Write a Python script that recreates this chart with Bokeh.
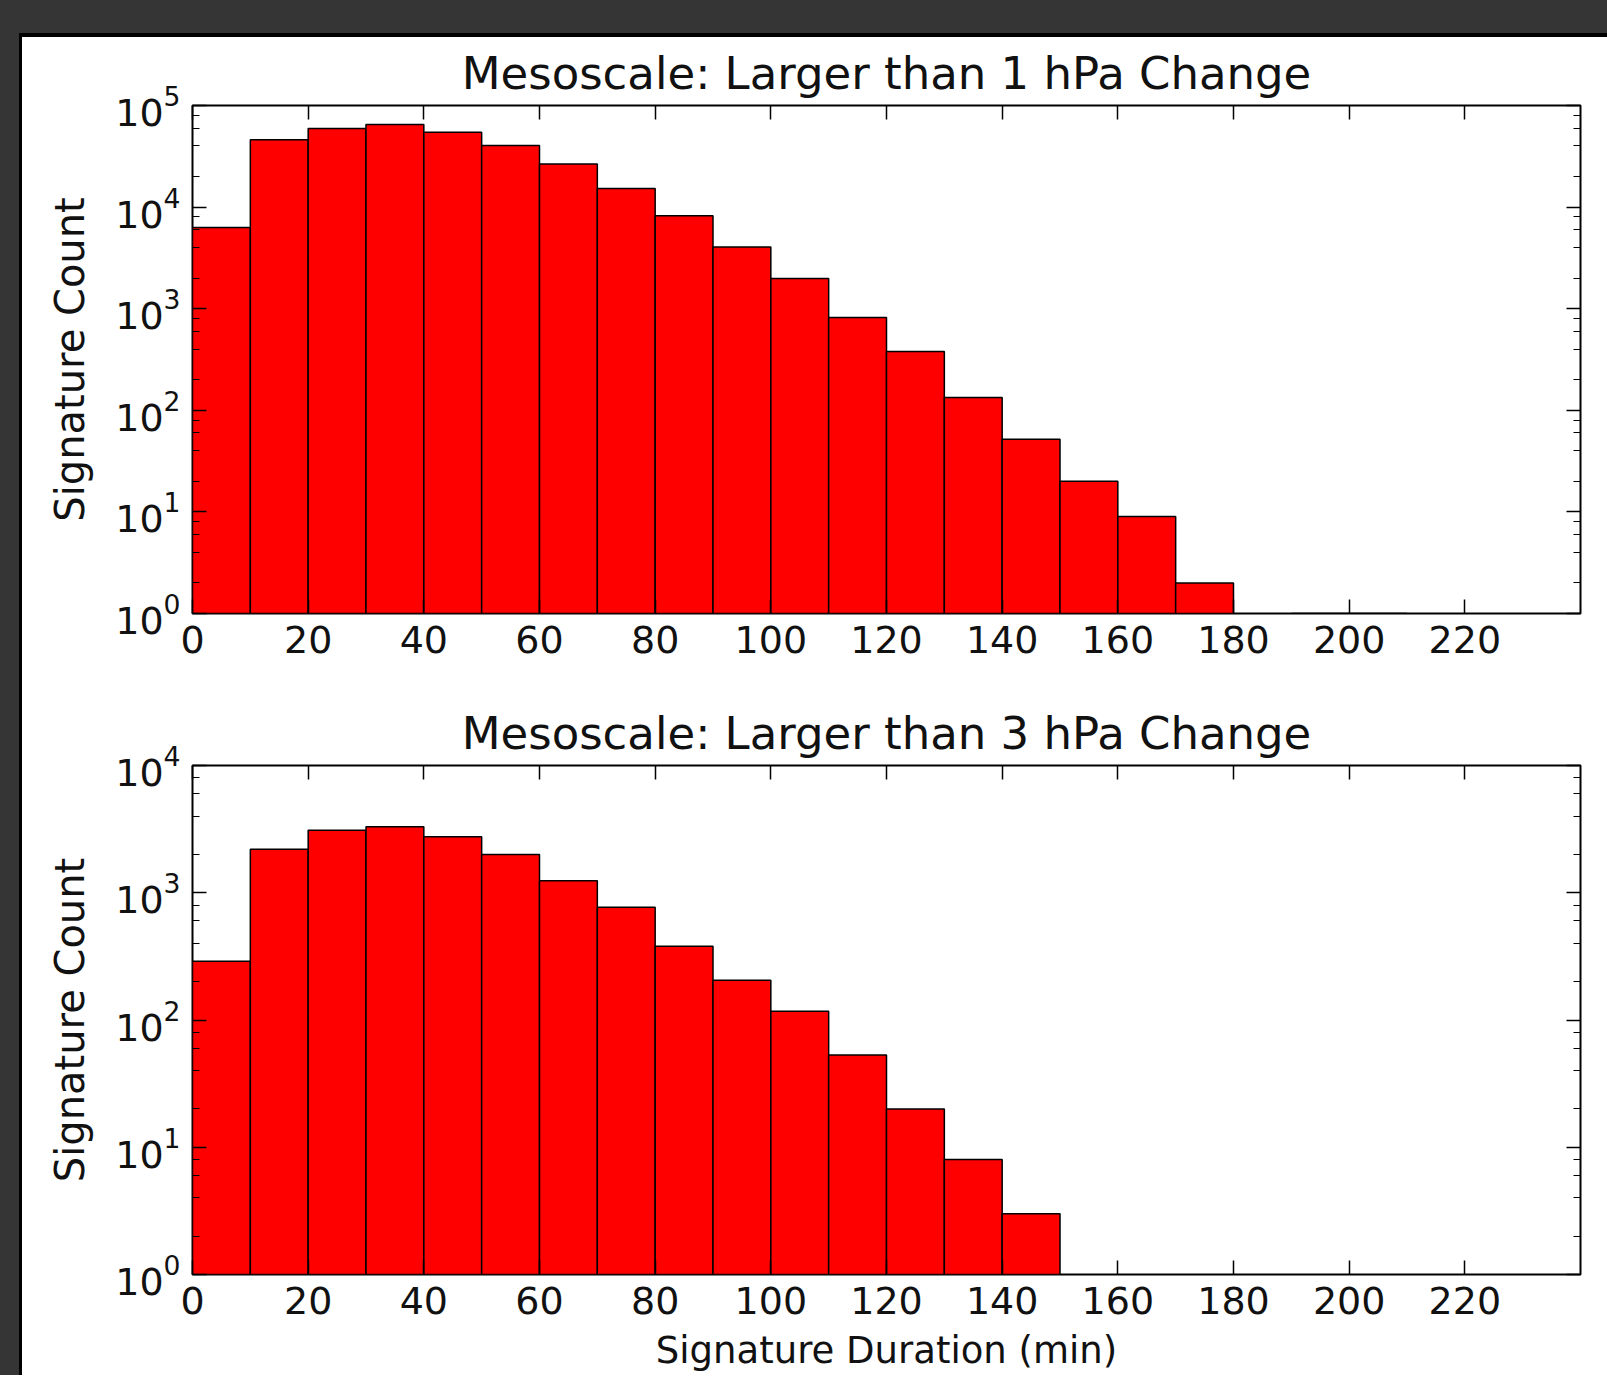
from bokeh.plotting import figure
from bokeh.models import (LinearAxis, LogAxis, Range1d, ColumnDataSource,
                          FixedTicker, LogTicker)
from bokeh.layouts import column
from bokeh.embed import file_html
from bokeh.resources import INLINE

# ---- data ----
bin_width = 10
bin_starts_top = [0, 10, 20, 30, 40, 50, 60, 70, 80, 90, 100, 110, 120, 130,
                  140, 150, 160, 170, 180, 190, 200]
counts_1hpa = [6300, 46000, 59500, 65000, 54500, 40500, 26500, 15200, 8200,
               4050, 1980, 820, 380, 134, 52, 20, 9, 2, 0, 1, 1]
bin_starts_bottom = [0, 10, 20, 30, 40, 50, 60, 70, 80, 90, 100, 110, 120,
                     130, 140]
counts_3hpa = [290, 2200, 3100, 3300, 2750, 2000, 1240, 770, 380, 205, 117,
               53, 20, 8, 3]
x_ticks = [0, 20, 40, 60, 80, 100, 120, 140, 160, 180, 200, 220]
title_top = "Mesoscale: Larger than 1 hPa Change"
title_bottom = "Mesoscale: Larger than 3 hPa Change"
y_label = "Signature Count"
x_label = "Signature Duration (min)"

FONT = "DejaVu Sans"


def make_source(starts, counts):
    l, r, t = [], [], []
    for s, c in zip(starts, counts):
        if c > 0:
            l.append(s)
            r.append(s + bin_width)
            t.append(c)
    return ColumnDataSource(dict(left=l, right=r, top=t, bottom=[1] * len(t)))


def style_axis(ax, labels=True, log=False):
    ax.axis_line_color = None
    ax.major_tick_in = 14
    ax.major_tick_out = 0
    ax.major_tick_line_color = "black"
    ax.major_tick_line_width = 1.5
    if log:
        ax.minor_tick_in = 7
        ax.minor_tick_out = 0
        ax.minor_tick_line_color = "black"
        ax.minor_tick_line_width = 1.2
    else:
        ax.minor_tick_line_color = None
    ax.major_label_text_font = FONT
    if labels:
        ax.major_label_text_color = "#111111"
        ax.major_label_text_font_size = "38px"
    else:
        ax.major_label_text_color = None
        ax.major_label_text_font_size = "1px"
        ax.major_label_standoff = 0


def make_plot(starts, counts, ymax, title, height, top_b, bottom_b, xlabel):
    p = figure(width=1585, height=height, output_backend="svg",
               toolbar_location=None, y_axis_type="log",
               x_range=Range1d(0, 240), y_range=Range1d(1, ymax),
               min_border_left=170, min_border_right=27,
               min_border_top=top_b, min_border_bottom=bottom_b,
               background_fill_color="white", border_fill_color="white")
    p.title.text = title
    p.title.text_font = FONT
    p.title.text_font_size = "45px"
    p.title.text_font_style = "normal"
    p.title.text_color = "#111111"
    p.title.align = "center"
    p.title.standoff = 11
    p.grid.visible = False
    p.outline_line_color = "black"
    p.outline_line_width = 2

    src = make_source(starts, counts)
    p.quad(left="left", right="right", top="top", bottom="bottom", source=src,
           fill_color="#ff0000", line_color="black", line_width=1.5)

    bx = p.xaxis[0]
    bx.ticker = FixedTicker(ticks=x_ticks)
    style_axis(bx)
    bx.major_label_standoff = 12
    ly = p.yaxis[0]
    ly.ticker = LogTicker(desired_num_ticks=6)
    style_axis(ly, log=True)
    ly.major_label_standoff = 12
    ly.axis_label = y_label
    ly.axis_label_text_font = FONT
    ly.axis_label_text_font_size = "40px"
    ly.axis_label_text_font_style = "normal"
    ly.axis_label_text_color = "#111111"
    ly.axis_label_standoff = 19
    if xlabel:
        bx.axis_label = xlabel
        bx.axis_label_text_font = FONT
        bx.axis_label_text_font_size = "37px"
        bx.axis_label_text_font_style = "normal"
        bx.axis_label_text_color = "#111111"
        bx.axis_label_text_line_height = 0.8
        bx.axis_label_standoff = 12

    ta = LinearAxis(ticker=FixedTicker(ticks=x_ticks))
    style_axis(ta, labels=False)
    p.add_layout(ta, "above")
    ra = LogAxis(ticker=LogTicker(desired_num_ticks=6))
    style_axis(ra, labels=False, log=True)
    p.add_layout(ra, "right")
    return p


p1 = make_plot(bin_starts_top, counts_1hpa, 1e5, title_top, 643, 68, 67, None)
p2 = make_plot(bin_starts_bottom, counts_3hpa, 1e4, title_bottom, 695, 85, 101,
               x_label)

inner = column(p1, p2, spacing=0,
               styles={"border-top": "4px solid black",
                       "border-left": "3px solid black",
                       "background-color": "white"})
root = column(inner, margin=(-8, -8, -8, -8),
              styles={"background-color": "#353535",
                      "padding": "41px 0px 0px 27px"})

open("out.html", "w").write(file_html(root, INLINE))
